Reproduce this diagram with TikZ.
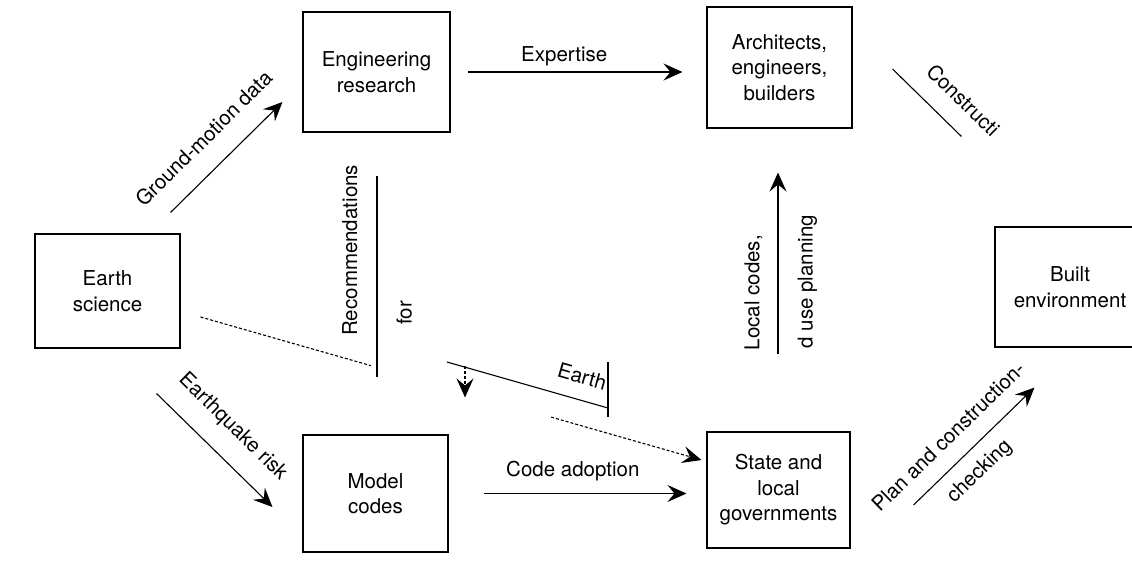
\documentclass[tikz,border=0pt]{standalone}
\usepackage{fontspec}
\setmainfont{TeX Gyre Heros}
\usetikzlibrary{arrows.meta, calc}

\begin{document}
\begin{tikzpicture}[x=1pt, y=-1pt,
    every node/.style={font=\fontsize{20.5}{25.5}\selectfont},
    block/.style={draw, line width=1.1pt, align=center, inner sep=0pt,
      minimum width=145, minimum height=118},
    link/.style={line width=1.1pt},
    arr/.style={link, -{Stealth[length=19pt, width=17pt, inset=7pt]}},
    lbl/.style={sloped, inner sep=2pt}
  ]
  \useasboundingbox (0,0) rectangle (1132,560);
  \clip (0,0) rectangle (1132,560);

  % Kaesten
  \node[block, minimum height=114] (es) at (107.5,291) {Earth\\science};
  \node[block, minimum width=147, minimum height=120] (er) at (376.5,72) {Engineering\\research};
  \node[block, minimum height=121] (aeb) at (779.5,67.5) {Architects,\\engineers,\\builders};
  \node[block, minimum height=117] (mc) at (375.5,493.5) {Model\\codes};
  \node[block, minimum width=143, minimum height=116] (slg) at (778.5,490) {State and\\local\\governments};
  \node[block, minimum width=150, minimum height=120] (be) at (1070,287) {Built\\environment};

  % obere Reihe
  \draw[arr] ($(es.north east)+(-10,-21)$) -- ($(er.west)+(-20,30)$)
    node[lbl, pos=0.48, above=19pt] {Ground-motion data};
  \draw[arr] ($(er.east)+(17,0)$) -- ($(er.east -| aeb.west)+(-24,0)$)
    node[lbl, pos=0.45, above=3pt] {Expertise};
  \draw[link] ($(aeb.east)+(40,1.5)$) -- ($(be.north west)+(-33,-90)$)
    node[lbl, pos=0.75, above=17pt] {Constructi};

  % senkrechte Verbindungen
  \draw[link] ($(mc.north)+(1.5,-57)$) -- ($(er.south)+(0.5,43)$)
    node[lbl, pos=0.63, above=17pt] {Recommendations}
    node[lbl, pos=0.32, below=17pt] {for};
  \draw[arr, densely dashed] ($(mc.north)+(89.5,-68)$) -- ($(mc.north)+(89.5,-37)$);
  \draw[arr] ($(slg.north)+(-0.5,-77)$) -- ($(aeb.south)+(-1.5,44)$)
    node[lbl, pos=0.34, above=13pt] {Local codes,}
    node[lbl, pos=0.40, below=17pt] {d use planning};

  % Earth science -> State and local governments
  \coordinate (eqs) at ($(es.east)+(20,26)$);
  \coordinate (eqe) at ($(slg.west)+(-5,-30)$);
  \draw[link, densely dashed] (eqs) -- ($(eqs)!0.34!(eqe)$);
  \draw[arr, densely dashed] ($(eqs)!0.70!(eqe)$) -- (eqe);
  \coordinate (eqA) at (447,362);
  \coordinate (eqB) at (608,408);
  \draw[link] (eqA) -- (eqB) node[lbl, pos=0.8, above=13pt] {Earth};
  \draw[link] ($(eqB)+(0,-46)$) -- ($(eqB)+(0,9)$);

  % untere Reihe
  \draw[arr] ($(es.south east)+(-24,45)$) -- ($(mc.west)+(-30,13.5)$)
    node[lbl, pos=0.48, above=17pt] {Earthquake risk};
  \draw[arr] ($(mc.east)+(35,0)$) -- ($(mc.east -| slg.west)+(-20,0)$)
    node[lbl, pos=0.44, above=10pt] {Code adoption};
  \draw[arr] ($(slg.east)+(63,15)$) -- ($(be.south west)+(40,40)$)
    node[lbl, pos=0.43, above=15pt] {Plan and construction-}
    node[lbl, pos=0.42, below=10pt] {checking};

\end{tikzpicture}
\end{document}
